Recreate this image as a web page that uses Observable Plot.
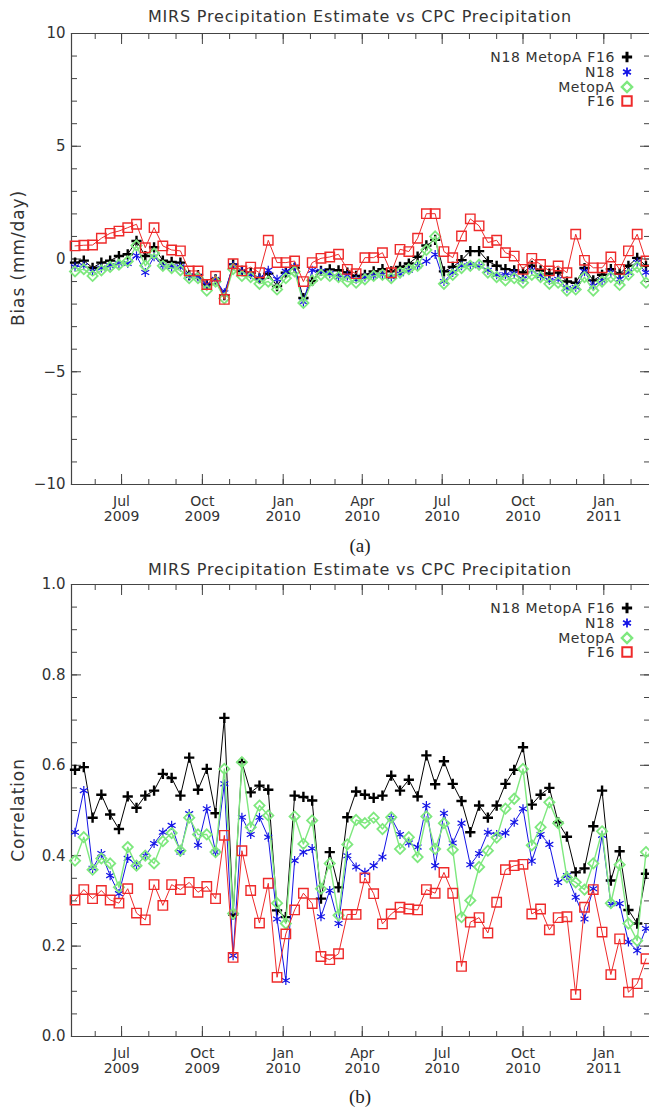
<!DOCTYPE html>
<html><head><meta charset="utf-8">
<script src="https://cdn.jsdelivr.net/npm/d3@7"></script>
<script src="https://cdn.jsdelivr.net/npm/@observablehq/plot@0.6"></script>
<style>
html,body{margin:0;padding:0;background:#fff;}
body{overflow:hidden;width:649px;height:1110px;position:relative;font-family:"DejaVu Sans",sans-serif;color:#333;}
.title{position:absolute;left:71px;width:578px;text-align:center;font-size:16px;letter-spacing:0.8px;line-height:18px;white-space:nowrap;z-index:3;}
.cap{position:absolute;left:71px;width:578px;text-align:center;font-family:"Liberation Serif","Times New Roman",serif;font-size:19px;line-height:22px;color:#222;z-index:3;}
.panel{position:absolute;left:0;z-index:1;}
.ylab{position:absolute;left:18px;transform:translate(-50%,-50%) rotate(-90deg);font-size:17px;letter-spacing:0.9px;white-space:nowrap;z-index:3;}
.leg{position:absolute;right:34px;font-size:14px;letter-spacing:0.6px;line-height:14px;height:14px;white-space:nowrap;z-index:3;}
.legsym{position:absolute;z-index:3;}
</style></head><body>
<div class="panel" id="pa" style="top:25px"></div>
<div class="panel" id="pb" style="top:576px"></div>
<script>
// ---------- data ----------
const titleText = "MIRS Precipitation Estimate vs CPC Precipitation";
const seriesNames = ["N18 MetopA F16", "N18", "MetopA", "F16"];
const firstDate = "2009-05-09";   // samples every 10 days
const nSamples = 66;
const xTickDates = ["2009-07-01","2009-10-01","2010-01-01","2010-04-01","2010-07-01","2010-10-01","2011-01-01"];
const xTickLabels = ["Jul\n2009","Oct\n2009","Jan\n2010","Apr\n2010","Jul\n2010","Oct\n2010","Jan\n2011"];

const biasTicks = [-10, -5, 0, 5, 10];
const biasTickLabels = ["\u221210", "\u22125", "0", "5", "10"];
const corrTicks = [0, 0.2, 0.4, 0.6, 0.8, 1.0];
const corrTickLabels = ["0.0", "0.2", "0.4", "0.6", "0.8", "1.0"];

const biasAll = [-0.16,-0.07,-0.39,-0.16,-0.07,0.13,0.21,0.8,0.13,0.52,-0.07,-0.13,-0.16,-0.71,-0.71,-1.13,-0.9,-1.6,-0.24,-0.53,-0.61,-0.86,-0.65,-1.2,-0.61,-0.39,-1.73,-0.97,-0.53,-0.46,-0.5,-0.6,-0.75,-0.7,-0.55,-0.45,-0.55,-0.35,-0.2,0.1,0.6,0.85,-0.55,-0.35,-0.05,0.35,0.35,-0.1,-0.3,-0.45,-0.5,-0.6,-0.3,-0.5,-0.65,-0.6,-1.0,-1.05,-0.4,-0.95,-0.7,-0.45,-0.65,-0.3,0.05,-0.3];
const biasN18 = [-0.35,-0.3,-0.55,-0.4,-0.3,-0.2,-0.2,0.15,-0.6,0.1,-0.3,-0.35,-0.35,-0.75,-0.8,-1.15,-0.9,-1.5,-0.3,-0.55,-0.7,-0.85,-0.5,-0.9,-0.55,-0.35,-1.9,-0.5,-0.55,-0.65,-0.8,-0.75,-0.9,-0.8,-0.75,-0.7,-0.8,-0.65,-0.5,-0.3,-0.1,0.2,-1.0,-0.6,-0.3,-0.25,-0.3,-0.5,-0.7,-0.7,-0.65,-0.9,-0.5,-0.75,-0.95,-0.9,-1.3,-1.25,-0.55,-1.2,-0.95,-0.6,-0.9,-0.6,-0.15,-0.6];
const biasMetopA = [-0.55,-0.45,-0.75,-0.5,-0.35,-0.25,-0.1,0.6,-0.3,0.25,-0.3,-0.4,-0.5,-0.85,-0.85,-1.4,-1.0,-1.75,-0.45,-0.75,-0.8,-1.1,-1.0,-1.35,-0.85,-0.55,-1.95,-0.95,-0.7,-0.75,-0.8,-1.0,-1.05,-0.9,-0.75,-0.7,-0.85,-0.6,-0.45,-0.3,0.4,1.0,-1.1,-0.7,-0.4,-0.3,-0.25,-0.6,-0.8,-0.95,-0.85,-1.05,-0.7,-0.8,-1.1,-1.05,-1.4,-1.35,-0.8,-1.4,-1.0,-0.8,-1.15,-0.7,-0.35,-1.05];
const biasF16 = [0.58,0.61,0.62,0.92,1.14,1.24,1.39,1.54,0.5,1.39,0.58,0.4,0.36,-0.53,-0.53,-1.13,-0.76,-1.79,-0.21,-0.53,-0.36,-0.61,0.83,-0.16,-0.16,-0.09,-1.0,-0.16,0.03,0.09,0.21,-0.46,-0.65,0.06,0.06,0.28,-0.61,0.43,0.33,0.92,2.01,2.01,0.33,0.06,1.02,1.78,1.47,0.73,0.83,0.28,0.13,-0.46,0.03,-0.24,-0.53,-0.31,-0.61,1.1,-0.06,-0.39,-0.39,0.09,-0.46,0.36,1.1,-0.09];

const corrAll = [0.59,0.596,0.484,0.535,0.491,0.459,0.531,0.506,0.533,0.544,0.581,0.572,0.533,0.617,0.546,0.592,0.494,0.705,0.27,0.607,0.54,0.555,0.546,0.279,0.264,0.533,0.53,0.522,0.305,0.408,0.33,0.485,0.542,0.535,0.528,0.533,0.577,0.544,0.568,0.531,0.622,0.558,0.609,0.559,0.521,0.452,0.511,0.484,0.511,0.559,0.59,0.64,0.513,0.535,0.55,0.474,0.442,0.363,0.372,0.465,0.544,0.345,0.41,0.28,0.25,0.36];
const corrN18 = [0.452,0.544,0.372,0.405,0.356,0.316,0.394,0.38,0.40,0.427,0.452,0.467,0.408,0.493,0.423,0.504,0.408,0.559,0.179,0.485,0.447,0.485,0.441,0.26,0.124,0.389,0.408,0.416,0.265,0.323,0.25,0.40,0.375,0.363,0.378,0.397,0.484,0.447,0.428,0.419,0.511,0.378,0.494,0.428,0.472,0.38,0.405,0.452,0.447,0.45,0.474,0.504,0.388,0.447,0.425,0.341,0.356,0.308,0.26,0.327,0.445,0.294,0.294,0.209,0.19,0.239];
const corrMetopA = [0.389,0.441,0.369,0.394,0.383,0.33,0.419,0.378,0.40,0.383,0.432,0.45,0.411,0.484,0.447,0.447,0.408,0.592,0.272,0.607,0.463,0.511,0.489,0.295,0.25,0.487,0.426,0.478,0.327,0.383,0.268,0.425,0.479,0.472,0.484,0.459,0.485,0.415,0.441,0.397,0.487,0.415,0.472,0.413,0.264,0.301,0.375,0.411,0.44,0.504,0.526,0.592,0.423,0.463,0.518,0.472,0.352,0.341,0.325,0.383,0.454,0.295,0.38,0.25,0.212,0.408];
const corrF16 = [0.302,0.325,0.305,0.323,0.302,0.295,0.327,0.273,0.258,0.336,0.29,0.336,0.325,0.341,0.319,0.332,0.305,0.445,0.175,0.411,0.323,0.251,0.339,0.131,0.227,0.28,0.317,0.294,0.177,0.17,0.183,0.27,0.27,0.351,0.316,0.249,0.271,0.286,0.282,0.28,0.325,0.317,0.363,0.317,0.155,0.253,0.263,0.229,0.297,0.369,0.378,0.381,0.271,0.282,0.236,0.263,0.265,0.093,0.286,0.325,0.231,0.137,0.216,0.098,0.117,0.172];

// ---------- styles ----------
const styles = [
  {color: "#000000", symbol: "plus",     r: 3.4, sw: 2.4, lw: 1.0},
  {color: "#1414e6", symbol: "asterisk", r: 4.3, sw: 1.2, lw: 1.0},
  {color: "#7ee87e", symbol: "diamond2", r: 4.6, sw: 1.8, lw: 1.4},
  {color: "#ee2a2a", symbol: "square2",  r: 6.0, sw: 1.4, lw: 1.0}
];
const d3Sym = {plus: d3.symbolPlus, asterisk: d3.symbolAsterisk, diamond2: d3.symbolDiamond2, square2: d3.symbolSquare2};
const axisColor = "#444";
const textColor = "#333";

const dates = d3.range(nSamples).map(i => d3.utcDay.offset(new Date(firstDate), 10 * i));
const xMajor = xTickDates.map(s => new Date(s));
const xMinor = d3.utcMonth.range(new Date("2009-06-01"), new Date("2011-02-02"));
const xDomain = [new Date("2009-05-05"), new Date("2011-02-22")];

function panel(el, seriesVals, yTicks, yTickLabels, yMinor, yDomain, height, marginBottom) {
  const marks = [
    Plot.frame({anchor: "left", stroke: axisColor, strokeWidth: 1.2}),
    Plot.frame({anchor: "bottom", stroke: axisColor, strokeWidth: 1.2}),
    Plot.frame({anchor: "top", stroke: axisColor, strokeWidth: 1.2}),
    // inward ticks
    Plot.axisX(xMajor, {anchor: "bottom", tickSize: -10, tickFormat: () => "", stroke: axisColor, label: null}),
    Plot.axisX(xMinor, {anchor: "bottom", tickSize: -5, tickFormat: () => "", stroke: axisColor, label: null}),
    Plot.axisX(xMajor, {anchor: "top", tickSize: -10, tickFormat: () => "", stroke: axisColor, label: null}),
    Plot.axisX(xMinor, {anchor: "top", tickSize: -5, tickFormat: () => "", stroke: axisColor, label: null}),
    Plot.axisY(yTicks, {anchor: "left", tickSize: -10, tickFormat: () => "", stroke: axisColor, label: null}),
    Plot.axisY(yMinor, {anchor: "left", tickSize: -6, tickFormat: () => "", stroke: axisColor, label: null}),
    Plot.axisY(yTicks, {anchor: "right", tickSize: -10, tickFormat: () => "", stroke: axisColor, label: null}),
    Plot.axisY(yMinor, {anchor: "right", tickSize: -6, tickFormat: () => "", stroke: axisColor, label: null}),
    // labels
    Plot.axisX(xMajor, {anchor: "bottom", tickSize: 0, tickPadding: 11, tickFormat: (d, i) => xTickLabels[i], lineHeight: 1.06, fontSize: 14, fill: textColor, label: null}),
    Plot.axisY(yTicks, {anchor: "left", tickSize: 0, tickPadding: 6, tickFormat: (d, i) => yTickLabels[i], fontSize: 15, fill: textColor, label: null})
  ];
  seriesVals.forEach((vals, k) => {
    const s = styles[k];
    marks.push(Plot.line(vals, {x: dates, y: vals, stroke: s.color, strokeWidth: s.lw}));
    marks.push(Plot.dot(vals, {x: dates, y: vals, symbol: s.symbol, r: s.r, stroke: s.color, strokeWidth: s.sw, fill: "none"}));
  });
  const chart = Plot.plot({
    width: 649, height, marginLeft: 71, marginRight: 0, marginTop: 8, marginBottom,
    style: {background: "transparent", fontFamily: "DejaVu Sans", fontSize: "15px", color: textColor, overflow: "visible"},
    x: {type: "utc", domain: xDomain, axis: null, label: null},
    y: {domain: yDomain, axis: null, label: null},
    marks
  });
  document.getElementById(el).appendChild(chart);
}

panel("pa", [biasAll, biasN18, biasMetopA, biasF16], biasTicks, biasTickLabels, d3.range(-10, 11, 1), [-10, 10], 510, 51);
panel("pb", [corrAll, corrN18, corrMetopA, corrF16], corrTicks, corrTickLabels, d3.range(0, 1.0001, 0.05), [0, 1], 512, 52);

// ---------- titles, captions, axis labels, legends ----------
function addDiv(cls, text, top, extra) {
  const d = document.createElement("div");
  d.className = cls; d.textContent = text; d.style.top = top + "px";
  if (extra) Object.assign(d.style, extra);
  document.body.appendChild(d);
  return d;
}
addDiv("title", titleText, 8);
addDiv("title", titleText, 561);
addDiv("cap", "(a)", 535);
addDiv("cap", "(b)", 1086);
addDiv("ylab", "Bias (mm/day)", 258);
addDiv("ylab", "Correlation", 810);

function legend(top0) {
  const gaps = [0, 15, 30, 44];
  seriesNames.forEach((name, k) => {
    const cy = top0 + gaps[k];
    addDiv("leg", name, cy - 7);
    const s = styles[k];
    const svg = d3.create("svg").attr("class", "legsym").attr("width", 16).attr("height", 16)
      .style("left", (627 - 8) + "px").style("top", (cy - 8) + "px");
    svg.append("path").attr("transform", "translate(8,8)")
      .attr("d", d3.symbol(d3Sym[s.symbol], Math.PI * s.r * s.r)())
      .attr("fill", "none").attr("stroke", s.color).attr("stroke-width", s.sw + 0.6);
    document.body.appendChild(svg.node());
  });
}
legend(57);
legend(608);
</script>
</body></html>
